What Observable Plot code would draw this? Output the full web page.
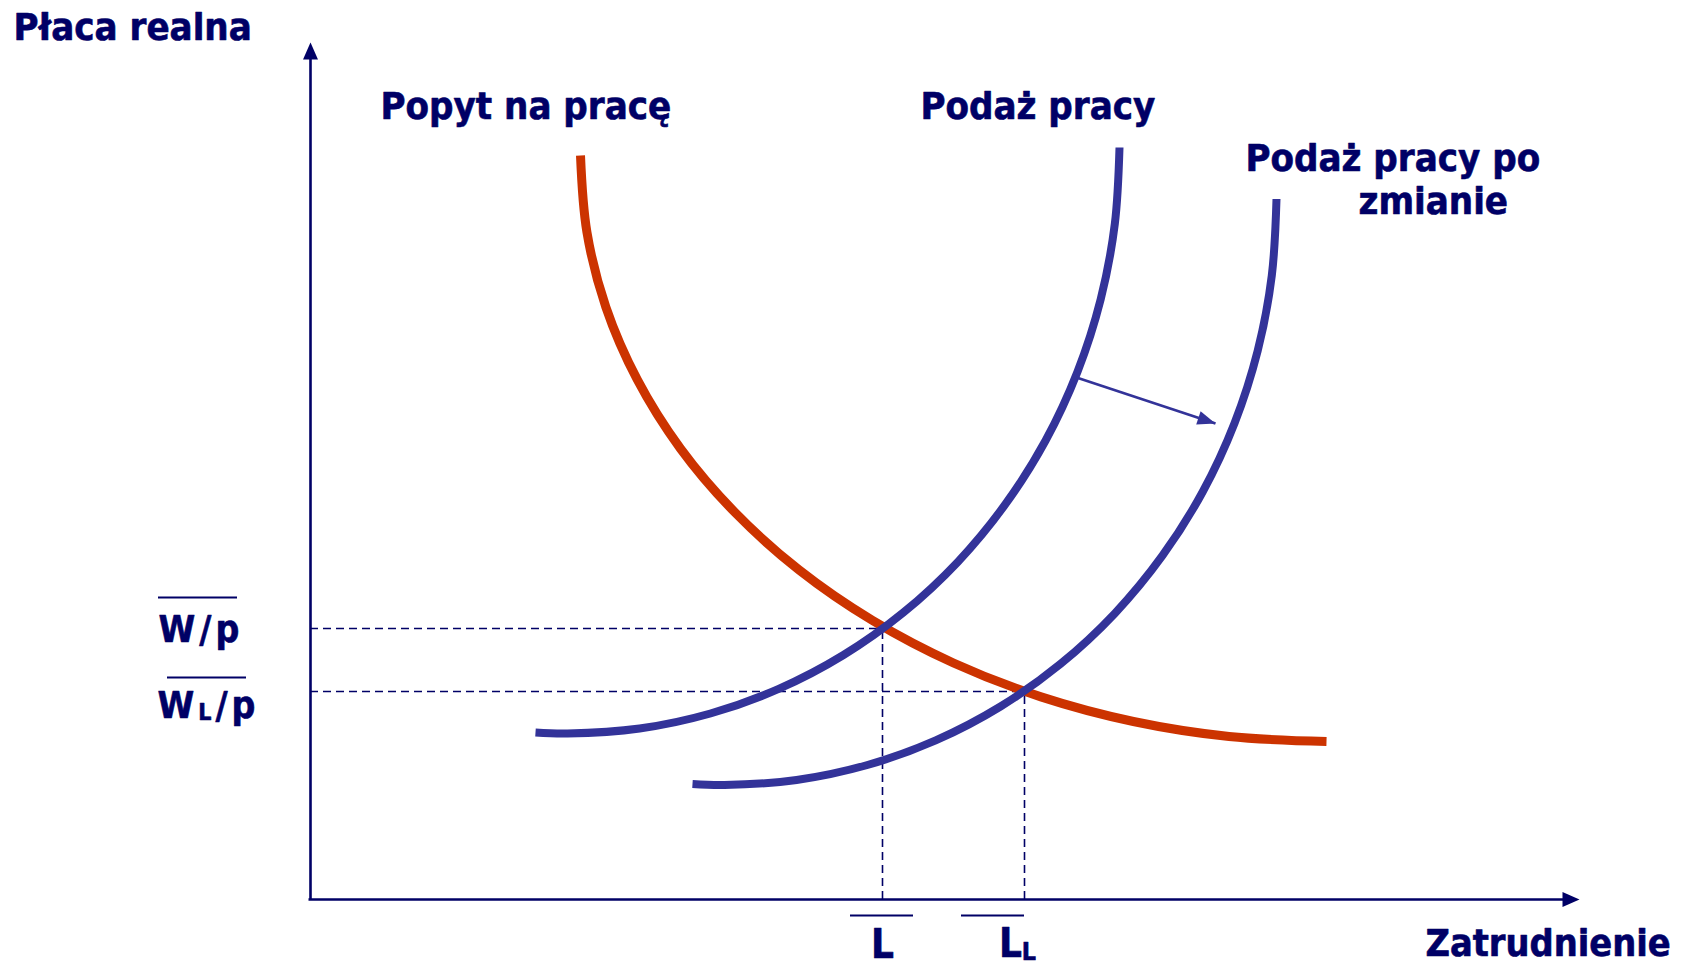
<!DOCTYPE html>
<html><head><meta charset="utf-8">
<script src="https://cdn.jsdelivr.net/npm/d3@7"></script>
<script src="https://cdn.jsdelivr.net/npm/@observablehq/plot@0.6"></script>
<style>html,body{margin:0;padding:0;background:#fff;overflow:hidden;}</style>
</head><body><div id="chart"></div>
<script>
// ---------- data (diagram units) ----------
const axisExtentX = [0, 126.9];
const axisExtentY = [0, 85.7];

const demandX = [27.0, 27.64, 29.54, 32.68, 36.99, 42.42, 48.85, 56.19, 64.30, 73.05, 82.29, 91.86, 101.6];
const demandY = [74.4, 66.75, 59.23, 51.98, 45.10, 38.73, 32.96, 27.91, 23.65, 20.26, 17.80, 16.30, 15.8];

const supplyX = [22.5, 25.7, 32.91, 39.99, 46.82, 53.30, 59.30, 64.73, 69.49, 73.51, 76.70, 79.02, 80.43, 80.9];
const supplyY = [16.7, 16.6, 17.10, 18.60, 21.06, 24.45, 28.71, 33.76, 39.53, 45.90, 52.78, 60.03, 67.55, 75.2];

const supply2X = [38.2, 41.4, 48.61, 55.69, 62.52, 69.00, 75.00, 80.43, 85.19, 89.21, 92.40, 94.72, 96.13, 96.6];
const supply2Y = [11.55, 11.45, 11.95, 13.45, 15.91, 19.30, 23.56, 28.61, 34.38, 40.75, 47.63, 54.88, 62.40, 70.05];

const equilibriumL = [57.2, 71.4];     // L, L_L
const equilibriumW = [27.1, 20.8];     // W/p, W_L/p
const wLabels = ["W/p", "W_L/p"];
const lLabels = ["L", "L_L"];

const shiftFrom = [76.6, 52.2];
const shiftTo = [90.5, 47.6];

const curveNames = ["Popyt na pracę", "Podaż pracy", "Podaż pracy po", "zmianie"];
const curveNameX = [7.0, 61.0, 93.5, 104.8];
const curveNameY = [78.1, 78.1, 72.9, 68.6];

const axisTitles = ["Płaca realna", "Zatrudnienie"];
const axisTitleX = [-29.7, 111.5];
const axisTitleY = [86.0, -5.6];

const overlineX1 = [-15.2, -14.3, 54.0, 65.1];
const overlineX2 = [-7.3, -6.4, 60.3, 71.4];
const overlineY = [30.2, 22.2, -1.6, -1.6];

// ---------- layout ----------
const W = 1696, H = 968;
const mL = 310, mR = 117, mT = 42, mB = 69;
const kx = (W - mL - mR) / (axisExtentX[1] - axisExtentX[0]);
const ky = (H - mT - mB) / (axisExtentY[1] - axisExtentY[0]);

const NAVY = "#000066", RED = "#CC3300", BLUE = "#333399";
const FONT = "'DejaVu Sans Condensed', 'DejaVu Sans', Verdana, sans-serif";

const demand = demandX.map((x, i) => ({x, y: demandY[i]}));
const supply = supplyX.map((x, i) => ({x, y: supplyY[i]}));
const supply2 = supply2X.map((x, i) => ({x, y: supply2Y[i]}));
const eq = equilibriumL.map((l, i) => ({l, w: equilibriumW[i], wl: wLabels[i], ll: lLabels[i]}));
const names = curveNames.map((t, i) => ({t, x: curveNameX[i], y: curveNameY[i]}));
const titles = axisTitles.map((t, i) => ({t, x: axisTitleX[i], y: axisTitleY[i]}));
const overlines = overlineX1.map((x1, i) => ({x1, x2: overlineX2[i], y: overlineY[i]}));

function head(len, wid) {
  return {draw(ctx) { ctx.moveTo(0, 0); ctx.lineTo(wid / 2, len); ctx.lineTo(-wid / 2, len); ctx.closePath(); }};
}
function angle(from, to) {
  const sdx = (to[0] - from[0]) * kx, sdy = -(to[1] - from[1]) * ky;
  return Math.atan2(sdx, -sdy) * 180 / Math.PI;
}
const axisHeads = [
  {x: axisExtentX[0], y: axisExtentY[1], r: angle([0, 0], [0, 1])},
  {x: axisExtentX[1], y: axisExtentY[0], r: angle([0, 0], [1, 0])}
];
const shiftHead = [{x: shiftTo[0], y: shiftTo[1], r: angle(shiftFrom, shiftTo)}];

const txt = {fontFamily: FONT, fontWeight: "bold", fill: NAVY, stroke: NAVY, strokeWidth: 0.6, paintOrder: "fill", textAnchor: "start", lineAnchor: "bottom"};

const chart = Plot.plot({
  width: W, height: H,
  marginLeft: mL, marginRight: mR, marginTop: mT, marginBottom: mB,
  x: {domain: axisExtentX, axis: null},
  y: {domain: axisExtentY, axis: null},
  style: {background: "#fff"},
  marks: [
    // dashed guides
    Plot.ruleY(eq, {y: "w", x1: axisExtentX[0], x2: "l", stroke: NAVY, strokeWidth: 1.6, strokeDasharray: "8,5"}),
    Plot.ruleX(eq, {x: "l", y1: axisExtentY[0], y2: "w", stroke: NAVY, strokeWidth: 1.6, strokeDasharray: "8,5"}),
    // axes
    Plot.ruleX([axisExtentX[0]], {y1: axisExtentY[0], y2: axisExtentY[1] - 1, stroke: NAVY, strokeWidth: 2.6}),
    Plot.ruleY([axisExtentY[0]], {x1: axisExtentX[0] - 0.15, x2: axisExtentX[1] - 1, stroke: NAVY, strokeWidth: 2.6}),
    Plot.dot(axisHeads, {x: "x", y: "y", rotate: "r", symbol: head(17, 15), r: 5, fill: NAVY, stroke: "none"}),
    // curves
    Plot.line(demand, {x: "x", y: "y", curve: "catmull-rom", stroke: RED, strokeWidth: 9, strokeLinecap: "butt"}),
    Plot.line(supply, {x: "x", y: "y", curve: "catmull-rom", stroke: BLUE, strokeWidth: 8, strokeLinecap: "butt"}),
    Plot.line(supply2, {x: "x", y: "y", curve: "catmull-rom", stroke: BLUE, strokeWidth: 8, strokeLinecap: "butt"}),
    // shift arrow
    Plot.link([0], {x1: shiftFrom[0], y1: shiftFrom[1], x2: shiftTo[0], y2: shiftTo[1], stroke: BLUE, strokeWidth: 2.6}),
    Plot.dot(shiftHead, {x: "x", y: "y", rotate: "r", symbol: head(18, 14), r: 5, fill: BLUE, stroke: "none"}),
    // texts
    Plot.text(titles.slice(0, 1), {x: "x", y: "y", text: "t", fontSize: 38, ...txt}),
    Plot.text(titles.slice(1, 2), {x: "x", y: "y", text: "t", fontSize: 37.5, ...txt}),
    Plot.text(names, {x: "x", y: "y", text: "t", fontSize: 38, ...txt}),
    Plot.text(eq.slice(0, 1), {x: -15.2, y: "w", text: "wl", fontSize: 37, dy: 13.5, ...txt}),
    Plot.text(eq.slice(1, 2), {x: -15.3, y: "w", text: "wl", fontSize: 37, dy: 26, ...txt}),
    Plot.text(eq.slice(0, 1), {x: "l", y: 0, text: "ll", fontSize: 40, dy: 58, ...txt, textAnchor: "middle"}),
    Plot.text(eq.slice(1, 2), {x: "l", y: 0, text: "ll", fontSize: 40, dy: 57, dx: -7, ...txt, textAnchor: "middle"}),
    // overlines
    Plot.ruleY(overlines, {y: "y", x1: "x1", x2: "x2", stroke: NAVY, strokeWidth: 1.8})
  ]
});

document.getElementById("chart").appendChild(chart);

// W labels get wider letter spacing (as in the original typeface)
chart.querySelectorAll("text").forEach(t => {
  if (wLabels.includes(t.textContent)) t.setAttribute("letter-spacing", "4px");
});

// subscripts: "X_Yrest" -> X, subscript Y, rest
const NS = "http://www.w3.org/2000/svg";
chart.querySelectorAll("text").forEach(t => {
  const s = t.textContent;
  const k = s.indexOf("_");
  if (k < 0) return;
  const fs = parseFloat(getComputedStyle(t).fontSize) || 36;
  const shift = fs * 0.08;
  const before = s.slice(0, k), sub = s[k + 1], after = s.slice(k + 2);
  while (t.firstChild) t.removeChild(t.firstChild);
  t.appendChild(document.createTextNode(before));
  const ts = document.createElementNS(NS, "tspan");
  ts.setAttribute("font-size", (fs * 0.62) + "px");
  ts.setAttribute("dy", shift);
  ts.textContent = sub;
  t.appendChild(ts);
  if (after) {
    const ta = document.createElementNS(NS, "tspan");
    ta.setAttribute("dy", -shift);
    ta.textContent = after;
    t.appendChild(ta);
  }
});
</script>
</body></html>
